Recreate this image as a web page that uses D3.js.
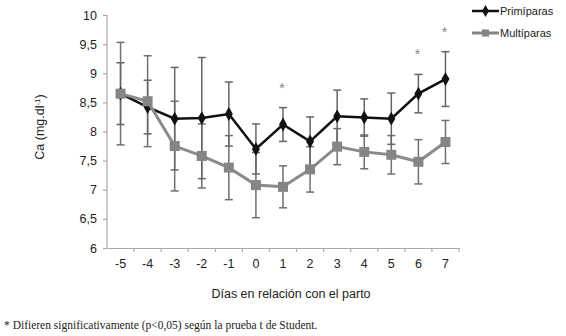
<!DOCTYPE html>
<html>
<head>
<meta charset="utf-8">
<script src="https://cdn.jsdelivr.net/npm/d3@7"></script>
<style>
  body { margin: 0; background: #fff; }
  svg { display: block; }
</style>
</head>
<body>
<script>
// days relative to calving
var days = ["-5", "-4", "-3", "-2", "-1", "0", "1", "2", "3", "4", "5", "6", "7"];
// Ca means and error (+/-)
var primiparas = [8.65, 8.42, 8.22, 8.23, 8.30, 7.70, 8.12, 7.83, 8.26, 8.24, 8.22, 8.65, 8.90];
var primiErr   = [0.53, 0.46, 0.88, 1.04, 0.55, 0.43, 0.29, 0.42, 0.45, 0.32, 0.44, 0.33, 0.47];
var multiparas = [8.65, 8.52, 7.75, 7.58, 7.38, 7.08, 7.05, 7.35, 7.74, 7.65, 7.60, 7.48, 7.82];
var multiErr   = [0.88, 0.78, 0.77, 0.55, 0.55, 0.56, 0.36, 0.39, 0.31, 0.29, 0.33, 0.38, 0.37];
var signif = ["1", "6", "7"];
var yTicks = [6, 6.5, 7, 7.5, 8, 8.5, 9, 9.5, 10];

var width = 566, height = 336;
var margin = {top: 15, left: 107, right: 107, bottom: 88};

var svg = d3.select("body").append("svg")
  .attr("width", width)
  .attr("height", height);

var x = d3.scaleBand()
  .domain(days)
  .range([margin.left, 459]);

var y = d3.scaleLinear()
  .domain([6, 10])
  .range([248, margin.top]);

var fmt = function(d) { return String(d).replace(".", ","); };

// axes
var xAxis = svg.append("g")
  .attr("transform", "translate(0,248)")
  .call(d3.axisBottom(x).tickSize(0).tickPadding(11));
xAxis.select(".domain").attr("stroke", "#aaa").attr("stroke-width", 1.2);
xAxis.selectAll("text")
  .attr("font-family", "Liberation Sans, Arial, sans-serif")
  .attr("font-size", "12.5px")
  .attr("fill", "#222");

// tick marks on the band edges (Excel style)
svg.append("g").selectAll("line")
  .data(days)
  .enter().append("line")
  .attr("x1", function(d) { return x(d) + x.bandwidth(); })
  .attr("x2", function(d) { return x(d) + x.bandwidth(); })
  .attr("y1", 248)
  .attr("y2", 252)
  .attr("stroke", "#aaa")
  .attr("stroke-width", 1.2);

var yAxis = svg.append("g")
  .attr("transform", "translate(" + margin.left + ",0)")
  .call(d3.axisLeft(y).tickValues(yTicks).tickSize(4).tickPadding(6).tickFormat(fmt));
yAxis.select(".domain").attr("stroke", "#aaa").attr("stroke-width", 1.2).attr("d", "M0,15V248");
yAxis.selectAll(".tick line").attr("stroke", "#aaa").attr("stroke-width", 1.2);
yAxis.selectAll("text")
  .attr("font-family", "Liberation Sans, Arial, sans-serif")
  .attr("font-size", "12.5px")
  .attr("fill", "#222");

// axis titles
svg.append("text")
  .attr("transform", "translate(44,127) rotate(-90)")
  .attr("text-anchor", "middle")
  .attr("font-family", "Liberation Sans, Arial, sans-serif")
  .attr("font-size", "12.5px")
  .attr("fill", "#222")
  .html('Ca (mg.dl<tspan dy="-4" font-size="8px">-1</tspan><tspan dy="4">)</tspan>');

svg.append("text")
  .attr("x", 291)
  .attr("y", 298)
  .attr("text-anchor", "middle")
  .attr("font-family", "Liberation Sans, Arial, sans-serif")
  .attr("font-size", "12.5px")
  .attr("fill", "#222")
  .text("Días en relación con el parto");

svg.append("text")
  .attr("x", 4)
  .attr("y", 329)
  .attr("font-family", "Liberation Serif, Times New Roman, serif")
  .attr("font-size", "11.5px")
  .attr("fill", "#222")
  .text("* Difieren significativamente (p<0,05) según la prueba t de Student.");

var cx = function(d) { return x(d) + x.bandwidth() / 2; };

// error bars
function errorBars(vals, errs, color) {
  var g = svg.append("g").attr("stroke", color).attr("stroke-width", 1.5);
  days.forEach(function(d, i) {
    var hi = y(vals[i] + errs[i]), lo = y(vals[i] - errs[i]);
    g.append("line").attr("x1", cx(d)).attr("x2", cx(d)).attr("y1", hi).attr("y2", lo);
    g.append("line").attr("x1", cx(d) - 4).attr("x2", cx(d) + 4).attr("y1", hi).attr("y2", hi);
    g.append("line").attr("x1", cx(d) - 4).attr("x2", cx(d) + 4).attr("y1", lo).attr("y2", lo);
  });
}
errorBars(multiparas, multiErr, "#707070");
errorBars(primiparas, primiErr, "#666");

var line = d3.line()
  .x(function(d) { return cx(d[0]); })
  .y(function(d) { return y(d[1]); });

// Primíparas
svg.append("path")
  .datum(d3.zip(days, primiparas))
  .attr("d", line)
  .attr("fill", "none")
  .attr("stroke", "#111")
  .attr("stroke-width", 2.5);

svg.append("g").selectAll("path")
  .data(d3.zip(days, primiparas))
  .enter().append("path")
  .attr("d", d3.symbol().type(d3.symbolDiamond).size(55))
  .attr("transform", function(d) { return "translate(" + cx(d[0]) + "," + y(d[1]) + ")"; })
  .attr("fill", "#111");

// Multíparas (drawn on top)
svg.append("path")
  .datum(d3.zip(days, multiparas))
  .attr("d", line)
  .attr("fill", "none")
  .attr("stroke", "#8a8a8a")
  .attr("stroke-width", 3);

svg.append("g").selectAll("path")
  .data(d3.zip(days, multiparas))
  .enter().append("path")
  .attr("d", d3.symbol().type(d3.symbolSquare).size(100))
  .attr("transform", function(d) { return "translate(" + cx(d[0]) + "," + y(d[1]) + ")"; })
  .attr("fill", "#858585");

// significance stars
svg.append("g").selectAll("text")
  .data(signif)
  .enter().append("text")
  .attr("x", function(d) { return cx(d) - 1; })
  .attr("y", function(d) {
    var i = days.indexOf(d);
    return y(primiparas[i] + primiErr[i]) - 15;
  })
  .attr("text-anchor", "middle")
  .attr("font-family", "Liberation Sans, Arial, sans-serif")
  .attr("font-size", "14px")
  .attr("fill", "#888")
  .text("*");

// legend
var legend = [
  {name: "Primíparas", color: "#111", sym: d3.symbolDiamond, size: 40, w: 2.5},
  {name: "Multíparas", color: "#858585", sym: d3.symbolSquare, size: 50, w: 3}
];
var lg = svg.append("g").attr("transform", "translate(472,11)");
legend.forEach(function(l, i) {
  var row = lg.append("g").attr("transform", "translate(0," + (i * 22) + ")");
  row.append("line").attr("x1", 0).attr("x2", 27).attr("y1", 0).attr("y2", 0)
    .attr("stroke", l.color).attr("stroke-width", l.w);
  row.append("path").attr("d", d3.symbol().type(l.sym).size(l.size))
    .attr("transform", "translate(13.5,0)").attr("fill", l.color);
  row.append("text").attr("x", 28).attr("y", 4)
    .attr("font-family", "Liberation Sans, Arial, sans-serif")
    .attr("font-size", "11px")
    .attr("fill", "#222")
    .text(l.name);
});
</script>
</body>
</html>
